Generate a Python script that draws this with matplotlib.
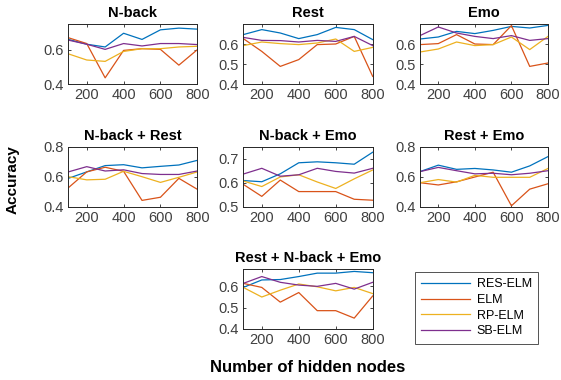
import numpy as np
import matplotlib
matplotlib.use("Agg")
import matplotlib.pyplot as plt

plt.rcParams['font.family'] = ['Liberation Sans', 'DejaVu Sans']

nodes = [100, 200, 300, 400, 500, 600, 700, 800]
methods = ['RES-ELM', 'ELM', 'RP-ELM', 'SB-ELM']
colors = ['#0072BD', '#D95319', '#EDB120', '#7E2F8E']

titles = ['N-back', 'Rest', 'Emo', 'N-back + Rest', 'N-back + Emo',
          'Rest + Emo', 'Rest + N-back + Emo']

# accuracy per dataset: RES-ELM, ELM, RP-ELM, SB-ELM
nback = [[0.66, 0.632, 0.616, 0.696, 0.66, 0.716, 0.726, 0.72],
         [0.67, 0.636, 0.436, 0.596, 0.606, 0.602, 0.51, 0.60],
         [0.576, 0.54, 0.532, 0.59, 0.606, 0.606, 0.616, 0.62],
         [0.656, 0.632, 0.602, 0.636, 0.622, 0.636, 0.636, 0.63]]
rest = [[0.647, 0.672, 0.655, 0.627, 0.647, 0.683, 0.672, 0.622],
        [0.627, 0.563, 0.488, 0.522, 0.597, 0.60, 0.638, 0.438],
        [0.592, 0.61, 0.602, 0.597, 0.605, 0.625, 0.563, 0.583],
        [0.633, 0.618, 0.617, 0.61, 0.618, 0.613, 0.638, 0.592]]
emo = [[0.625, 0.635, 0.663, 0.652, 0.668, 0.688, 0.68, 0.693],
       [0.597, 0.602, 0.647, 0.60, 0.597, 0.692, 0.488, 0.505],
       [0.56, 0.575, 0.61, 0.592, 0.597, 0.635, 0.572, 0.638],
       [0.642, 0.685, 0.655, 0.638, 0.627, 0.642, 0.618, 0.627]]
nback_rest = [[0.589, 0.632, 0.674, 0.68, 0.659, 0.669, 0.678, 0.709],
              [0.526, 0.632, 0.663, 0.636, 0.442, 0.463, 0.589, 0.516],
              [0.60, 0.579, 0.583, 0.636, 0.60, 0.562, 0.596, 0.632],
              [0.632, 0.667, 0.638, 0.646, 0.621, 0.615, 0.615, 0.638]]
nback_emo = [[0.609, 0.604, 0.637, 0.683, 0.687, 0.683, 0.677, 0.727],
             [0.593, 0.543, 0.611, 0.563, 0.563, 0.563, 0.531, 0.527],
             [0.607, 0.584, 0.624, 0.633, 0.603, 0.576, 0.616, 0.653],
             [0.636, 0.66, 0.627, 0.633, 0.66, 0.647, 0.64, 0.66]]
rest_emo = [[0.634, 0.677, 0.649, 0.655, 0.645, 0.63, 0.672, 0.734],
            [0.56, 0.545, 0.566, 0.598, 0.63, 0.406, 0.517, 0.553],
            [0.56, 0.581, 0.564, 0.609, 0.596, 0.596, 0.596, 0.655],
            [0.634, 0.662, 0.64, 0.619, 0.623, 0.613, 0.623, 0.64]]
all_three = [[0.595, 0.63, 0.632, 0.646, 0.662, 0.662, 0.67, 0.664],
             [0.614, 0.595, 0.526, 0.571, 0.486, 0.486, 0.451, 0.555],
             [0.595, 0.55, 0.582, 0.611, 0.598, 0.579, 0.595, 0.566],
             [0.614, 0.646, 0.619, 0.606, 0.60, 0.614, 0.587, 0.619]]

datasets = [nback, rest, emo, nback_rest, nback_emo, rest_emo, all_three]
ylims = [(0.4, 0.75), (0.4, 0.7), (0.4, 0.7), (0.4, 0.8), (0.5, 0.75),
         (0.4, 0.8), (0.4, 0.68)]
yticks = [[0.4, 0.6], [0.4, 0.5, 0.6], [0.4, 0.5, 0.6], [0.4, 0.6, 0.8],
          [0.5, 0.6, 0.7], [0.4, 0.6, 0.8], [0.4, 0.5, 0.6]]

W, H = 561, 380
# pixel boxes (left, top, right, bottom)
boxes = [(68.3, 24, 197.3, 84), (243.3, 24, 372.7, 84), (420, 24, 548, 84),
         (68.3, 146.7, 197.3, 206.7), (243.3, 146.7, 372.7, 206.7),
         (420, 146.7, 548, 206.7), (243.3, 269.3, 372.7, 329)]

fig = plt.figure(figsize=(W / 100, H / 100), dpi=100)
edge = '#262626'
for i in range(7):
    l, t, r, b = boxes[i]
    ax = fig.add_axes([l / W, 1 - b / H, (r - l) / W, (b - t) / H])
    lines = []
    for k in range(4):
        ln, = ax.plot(nodes, datasets[i][k], color=colors[k], lw=0.9)
        lines.append(ln)
    ax.set_xlim(100, 800)
    ax.set_ylim(*ylims[i])
    ax.set_xticks([200, 400, 600, 800])
    ax.set_yticks(yticks[i])
    ax.set_yticklabels([f'{v:.1f}' for v in yticks[i]])
    ax.tick_params(direction='in', length=2.5, width=0.6, top=True, right=True,
                   labelsize=10.5, colors=edge, labelcolor='#404040', pad=3)
    for s in ax.spines.values():
        s.set_color(edge)
        s.set_linewidth(0.7)
    ax.set_title(titles[i], fontsize=10.5, fontweight='bold', pad=5)
    if i == 6:
        ax.set_xlabel('Number of hidden nodes', fontsize=12, fontweight='bold', labelpad=9)

fig.text(13 / W, 1 - 180 / H, 'Accuracy', rotation=90, fontsize=11,
         fontweight='bold', ha='center', va='center')

leg = fig.legend(lines, methods, loc='upper left',
                 bbox_to_anchor=(415 / W, 1 - 272 / H), fontsize=9,
                 frameon=True, fancybox=False, handlelength=3.9,
                 borderpad=0.5, labelspacing=0.3, handletextpad=0.55,
                 borderaxespad=0)
leg.get_frame().set_edgecolor(edge)
leg.get_frame().set_linewidth(0.7)

fig.savefig('out.png', dpi=100)
